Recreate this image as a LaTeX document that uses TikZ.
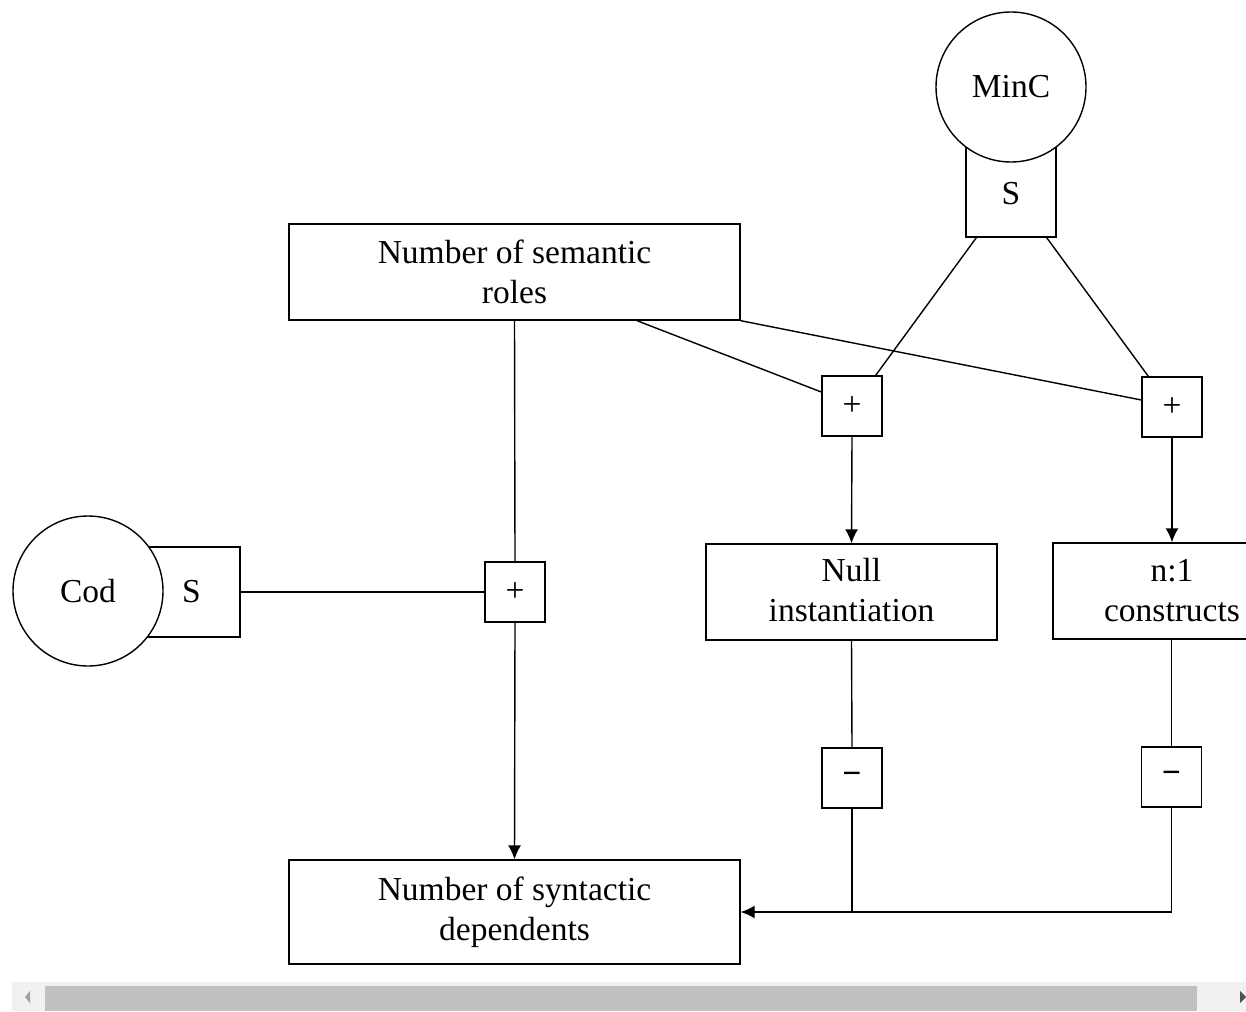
\documentclass[tikz,border=0pt]{standalone}
\usepackage{fontspec}
\setmainfont{Liberation Serif}
\usetikzlibrary{arrows.meta}
\tikzset{
  box/.style={draw, line width=1.4pt, rectangle, inner sep=0pt, align=center, fill=white,
    font=\fontsize{33.5}{40}\selectfont},
  sign/.style={box, minimum width=60pt, minimum height=60pt},
  circ/.style={draw, line width=1.4pt, circle, minimum size=150pt, inner sep=0pt, fill=white,
    font=\fontsize{33.5}{40}\selectfont},
  conn/.style={line width=1.4pt},
  arr/.style={line width=1.4pt, -{Latex[length=14pt,width=13pt]}},
}
\begin{document}
\begin{tikzpicture}[x=1pt,y=-1pt]
\useasboundingbox (0,0) rectangle (1246,1011);
\clip (0,0) rectangle (1246,1011);
% boxes
\node[box, minimum width=451pt, minimum height=96pt] (sem) at (514.5,272) {Number of semantic\\roles};
\node[box, minimum width=451pt, minimum height=104pt] (syn) at (514.5,912) {Number of syntactic\\dependents};
\node[box, minimum width=291pt, minimum height=96pt] (null) at (851.5,592) {\raisebox{4pt}{Null}\\\raisebox{4pt}{instantiation}};
\node[box, minimum width=238pt, minimum height=96pt] (n1) at (1172,591) {n:1\\constructs};
\node[sign] (p1) at (852,406) {\raisebox{-2pt}{+}};
\node[sign] (p2) at (1172,407) {\raisebox{-2pt}{+}};
\node[sign] (p3) at (515,592) {+};
\node[sign] (m1) at (852,778) {\textbf{−}};
\node[sign] (m2) at (1171.5,777) {\textbf{−}};
\node[box, minimum width=90pt, minimum height=92pt, text depth=0pt] (mincS) at (1011,191) {\raisebox{-4pt}{S}};
\node[circ] (minc) at (1011,87) {MinC};
\node[box, minimum width=92pt, minimum height=90pt] (codS) at (194,592) {\hspace*{-5pt}S};
\node[circ] (cod) at (88,591) {Cod};
% connectors
\draw[conn] ([xshift=11pt]mincS.south west) -- ([xshift=-7pt]p1.north east);
\draw[conn] ([xshift=-10pt]mincS.south east) -- ([xshift=7pt]p2.north west);
\draw[conn] ([xshift=122.5pt]sem.south) -- ([yshift=14pt]p1.west);
\draw[conn] (sem.south east) -- ([yshift=7pt]p2.west);
\draw[conn] (sem.south) -- (p3.north);
\draw[conn] (codS.east) -- (p3.west);
\draw[arr] (p3.south) -- (syn.north);
\draw[arr] (p1.south) -- (null.north);
\draw[arr] (p2.south) -- (n1.north);
\draw[conn] (null.south) -- (m1.north);
\draw[conn] (n1.south -| m2.north) -- (m2.north);
\coordinate (corner) at (m1.south |- syn.east);
\draw[arr] (m1.south) -- (corner) -- (syn.east);
\draw[conn] (m2.south) |- (corner);
% scrollbar
\fill[fill={rgb,255:red,241;green,241;blue,241}] (12,982) rectangle (1246,1011);
\fill[fill={rgb,255:red,192;green,192;blue,192}] (45,986) rectangle (1197,1011);
\fill[fill={rgb,255:red,160;green,160;blue,160}] (25,997) -- (30,991) -- (30,1003) -- cycle;
\fill[fill={rgb,255:red,80;green,80;blue,80}] (1246,997) -- (1240,991) -- (1240,1003) -- cycle;
\end{tikzpicture}
\end{document}
